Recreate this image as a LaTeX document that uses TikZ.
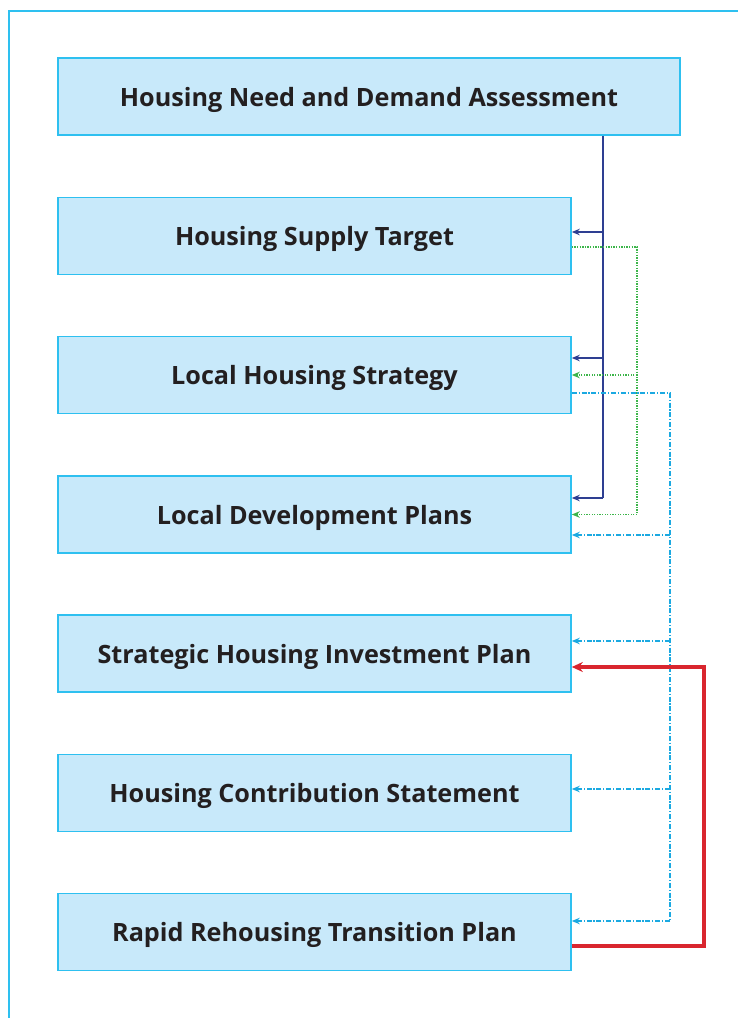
\documentclass[tikz,border=0pt]{standalone}
\usepackage{fontspec}
\setmainfont{Open Sans}
\usetikzlibrary{arrows.meta,calc}
\definecolor{boxfill}{HTML}{C8E9FA}
\definecolor{boxline}{HTML}{2EC0F0}
\definecolor{dblue}{HTML}{2E3F92}
\definecolor{dgreen}{HTML}{3CB54A}
\definecolor{dcyan}{HTML}{1BA9E1}
\definecolor{dred}{HTML}{D9262E}
\definecolor{txt}{HTML}{231F20}
\begin{document}
\begin{tikzpicture}[x=1pt,y=-1pt,
  box/.style={draw=boxline,fill=boxfill,line width=1.6pt,minimum height=77pt,minimum width=513pt,
    inner sep=0pt,text depth=0pt,font=\fontsize{25.2}{29}\selectfont\bfseries,text=txt},
  tip/.style={-{Stealth[length=8pt,width=6.5pt]}},
  lblue/.style={draw=dblue,line width=1.4pt},
  lgreen/.style={draw=dgreen,line width=1.3pt,dash pattern=on 1.3pt off 1.3pt},
  lcyan/.style={draw=dcyan,line width=1.3pt,dash pattern=on 5pt off 1.8pt on 1.2pt off 1.8pt},
  lred/.style={draw=dred,line width=3.5pt}]
\useasboundingbox (0,0) rectangle (738,1018);
\draw[boxline,line width=1.6pt] (9,1018) -- (9,11) -- (738,11);
\node[box,minimum width=622pt] (b1) at (369,96.5) {Housing Need and Demand Assessment};
\node[box] (b2) at (314.5,236) {Housing Supply Target};
\node[box] (b3) at (314.5,375) {Local Housing Strategy};
\node[box] (b4) at (314.5,514.5) {Local Development Plans};
\node[box] (b5) at (314.5,653.5) {Strategic Housing Investment Plan};
\node[box] (b6) at (314.5,793) {Housing Contribution Statement};
\node[box] (b7) at (314.5,932) {Rapid Rehousing Transition Plan};
% vertical trunk x positions
\coordinate (xb) at (603,0);
\coordinate (xg) at (637,0);
\coordinate (xc) at (670,0);
\coordinate (xr) at (704,0);
% blue
\coordinate (u2) at ($(b2.east)+(0,-4)$);
\coordinate (u3) at ($(b3.east)+(0,-17)$);
\coordinate (u4) at ($(b4.east)+(0,-16.5)$);
\draw[lblue] (b1.south -| xb) -- (u4 -| xb);
\draw[lblue,tip] (u2 -| xb) -- (u2);
\draw[lblue,tip] (u3 -| xb) -- (u3);
\draw[lblue,tip] (u4 -| xb) -- (u4);
% green
\coordinate (g2) at ($(b2.east)+(0,11)$);
\draw[lgreen] (g2) -| (b4.east -| xg);
\draw[lgreen,tip] (b3.east -| xg) -- (b3.east);
\draw[lgreen,tip] (b4.east -| xg) -- (b4.east);
% cyan
\coordinate (c3) at ($(b3.east)+(0,18)$);
\coordinate (c4) at ($(b4.east)+(0,20.5)$);
\coordinate (c5) at ($(b5.east)+(0,-12.5)$);
\coordinate (c6) at ($(b6.east)+(0,-4)$);
\coordinate (c7) at ($(b7.east)+(0,-11)$);
\draw[lcyan] (c3) -| (c7 -| xc);
\draw[lcyan,tip] (c4 -| xc) -- (c4);
\draw[lcyan,tip] (c5 -| xc) -- (c5);
\draw[lcyan,tip] (c6 -| xc) -- (c6);
\draw[lcyan,tip] (c7 -| xc) -- (c7);
% red
\coordinate (r7) at ($(b7.east)+(0,14)$);
\coordinate (r5) at ($(b5.east)+(0,13.5)$);
\draw[lred,-{Stealth[length=11pt,width=10pt]}] (r7) -| (xr |- r5) -- (r5);
\end{tikzpicture}
\end{document}
